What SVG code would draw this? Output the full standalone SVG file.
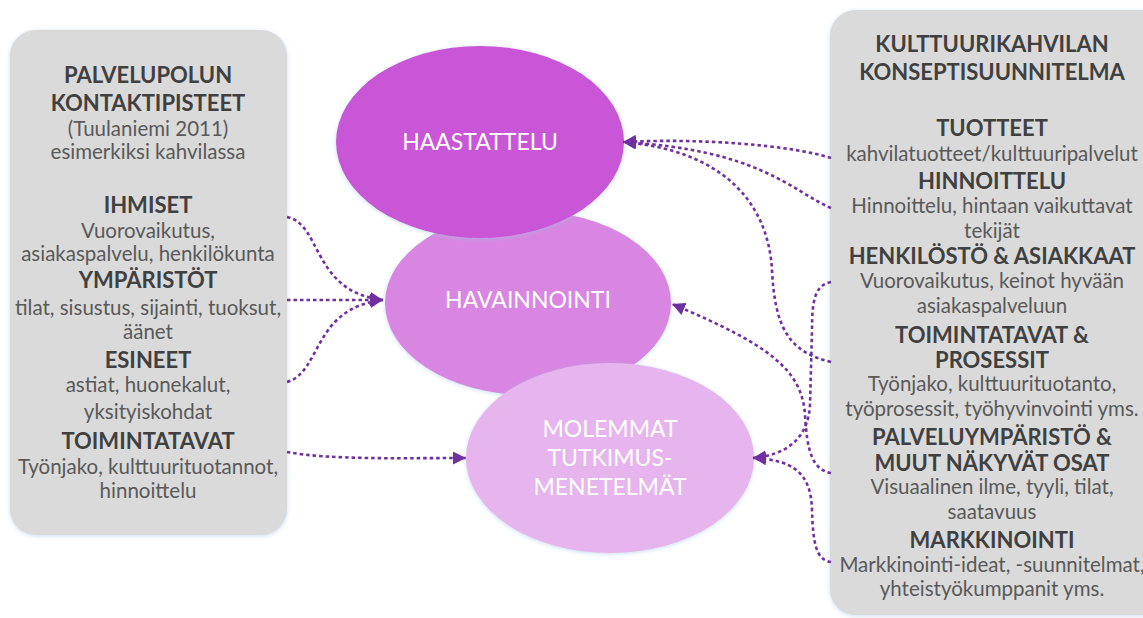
<svg xmlns="http://www.w3.org/2000/svg" width="1143" height="618" viewBox="0 0 1143 618">
<defs>
<filter id="glow" x="-10%" y="-10%" width="120%" height="120%">
<feDropShadow dx="0" dy="1" stdDeviation="2" flood-color="#9dc3e6" flood-opacity="0.55"/>
</filter>
<marker id="arr" markerUnits="userSpaceOnUse" viewBox="0 0 12 12" refX="12" refY="6" markerWidth="13" markerHeight="13" orient="auto">
<path d="M0,0 L12,6 L0,12 z" fill="#7030A0"/>
</marker>
</defs>
<style>
.box{fill:#DADADA;filter:url(#glow)}
.h{font-family:Lato,"Open Sans","Liberation Sans",sans-serif;font-weight:700;font-size:22px;fill:#404040;text-anchor:middle}
.b{font-family:Lato,"Open Sans","Liberation Sans",sans-serif;font-weight:400;font-size:20.5px;fill:#595959;text-anchor:middle}
.el{filter:url(#glow)}
.et{font-family:Lato,"Open Sans","Liberation Sans",sans-serif;font-weight:400;font-size:23px;fill:#ffffff;text-anchor:middle}
.c{fill:none;stroke:#7030A0;stroke-width:2.6;stroke-dasharray:3.5 3;marker-end:url(#arr)}
</style>
<rect width="1143" height="618" fill="#ffffff"/>

<g id="left-box">
<rect class="box" x="10" y="30" width="277" height="505" rx="26" ry="26"/>
<text class="h" x="148" y="83">PALVELUPOLUN</text>
<text class="h" x="148" y="111">KONTAKTIPISTEET</text>
<text class="b" x="148" y="136">(Tuulaniemi 2011)</text>
<text class="b" x="148" y="159">esimerkiksi kahvilassa</text>
<text class="h" x="148" y="213">IHMISET</text>
<text class="b" x="148" y="238">Vuorovaikutus,</text>
<text class="b" x="148" y="261">asiakaspalvelu, henkilökunta</text>
<text class="h" x="148" y="288">YMPÄRISTÖT</text>
<text class="b" x="148" y="315">tilat, sisustus, sijainti, tuoksut,</text>
<text class="b" x="148" y="339">äänet</text>
<text class="h" x="148" y="368">ESINEET</text>
<text class="b" x="148" y="392">astiat, huonekalut,</text>
<text class="b" x="148" y="419">yksityiskohdat</text>
<text class="h" x="148" y="449">TOIMINTATAVAT</text>
<text class="b" x="148" y="474">Työnjako, kulttuurituotannot,</text>
<text class="b" x="148" y="498">hinnoittelu</text>
</g>

<g id="right-box">
<rect class="box" x="830" y="10" width="340" height="605" rx="26" ry="26"/>
<text class="h" x="992" y="52">KULTTUURIKAHVILAN</text>
<text class="h" x="992" y="80">KONSEPTISUUNNITELMA</text>
<text class="h" x="992" y="136">TUOTTEET</text>
<text class="b" x="992" y="161">kahvilatuotteet/kulttuuripalvelut</text>
<text class="h" x="992" y="189">HINNOITTELU</text>
<text class="b" x="992" y="213">Hinnoittelu, hintaan vaikuttavat</text>
<text class="b" x="992" y="238">tekijät</text>
<text class="h" x="992" y="264">HENKILÖSTÖ &amp; ASIAKKAAT</text>
<text class="b" x="992" y="288">Vuorovaikutus, keinot hyvään</text>
<text class="b" x="992" y="313">asiakaspalveluun</text>
<text class="h" x="992" y="343">TOIMINTATAVAT &amp;</text>
<text class="h" x="992" y="368">PROSESSIT</text>
<text class="b" x="992" y="391">Työnjako, kulttuurituotanto,</text>
<text class="b" x="992" y="416">työprosessit, työhyvinvointi yms.</text>
<text class="h" x="992" y="445">PALVELUYMPÄRISTÖ &amp;</text>
<text class="h" x="992" y="471">MUUT NÄKYVÄT OSAT</text>
<text class="b" x="992" y="494">Visuaalinen ilme, tyyli, tilat,</text>
<text class="b" x="992" y="519">saatavuus</text>
<text class="h" x="992" y="548">MARKKINOINTI</text>
<text class="b" x="992" y="572">Markkinointi-ideat, -suunnitelmat,</text>
<text class="b" x="992" y="596">yhteistyökumppanit yms.</text>
</g>

<g id="havainnointi">
<ellipse class="el" cx="528" cy="303" rx="143" ry="92" fill="#D886E1"/>
<text class="et" x="528" y="308">HAVAINNOINTI</text>
</g>

<g id="haastattelu">
<ellipse class="el" cx="480" cy="142" rx="144" ry="96" fill="#C957D7"/>
<text class="et" x="480" y="150">HAASTATTELU</text>
</g>

<g id="molemmat">
<ellipse class="el" cx="610" cy="458" rx="144" ry="95" fill="#E7B5ED"/>
<text class="et" x="610" y="437">MOLEMMAT</text>
<text class="et" x="610" y="466">TUTKIMUS-</text>
<text class="et" x="610" y="495">MENETELMÄT</text>
</g>

<g id="connectors">
<path class="c" d="M287,217 C322,224 312,292 383,300"/>
<path class="c" d="M287,300 L383,300"/>
<path class="c" d="M287,382 C322,372 312,308 383,300"/>
<path class="c" d="M287,452 C330,460 400,458 466,458"/>
<path class="c" d="M831,158 C790,145 700,138 623,142"/>
<path class="c" d="M831,208 C790,190 760,150 623,142"/>
<path class="c" d="M831,362 C790,352 775,330 772,270 C768,200 720,150 623,142"/>
<path class="c" d="M831,473 C812,470 807,450 805,415 C802,370 770,345 672,304"/>
<path class="c" d="M831,282 C815,285 812,300 812,330 L810,405 C808,440 785,455 753,458"/>
<path class="c" d="M831,562 C815,560 813,540 812,510 C811,470 790,460 753,458"/>
</g>
</svg>
